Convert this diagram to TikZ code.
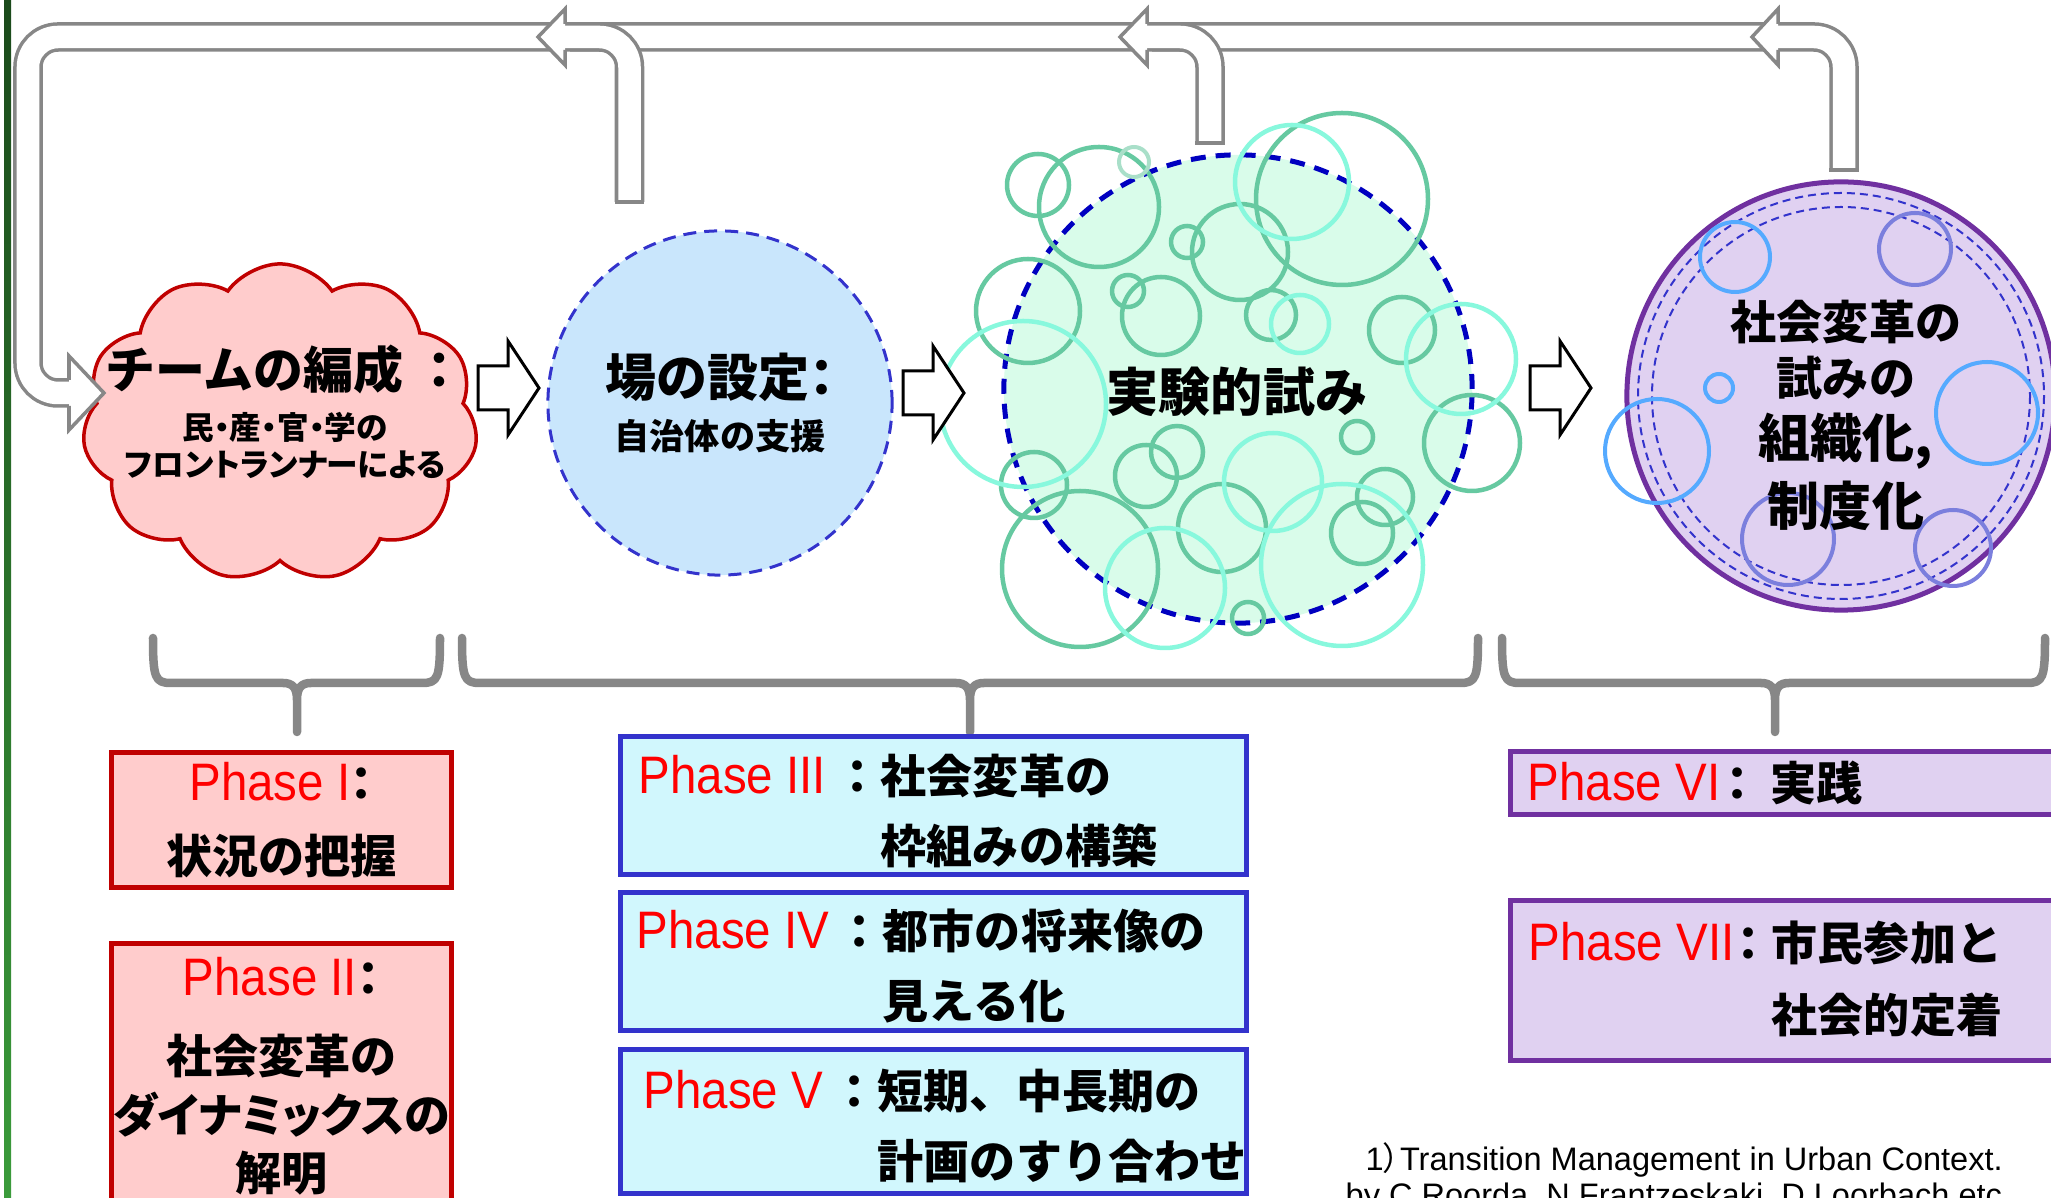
\documentclass[tikz,border=0pt]{standalone}
\usepackage{fontspec}
\setmainfont{Liberation Sans}
\newfontfamily\jpf{Noto Sans CJK JP}
\newfontfamily\jpp{Noto Sans CJK JP}[RawFeature=+palt]
\newfontfamily\phs{Liberation Sans}[FakeStretch=0.9]
\usetikzlibrary{shapes.symbols, positioning, calc}

\definecolor{cloudfill}{HTML}{FFCCCC}
\definecolor{cloudline}{HTML}{C00000}
\definecolor{fieldfill}{HTML}{C9E6FC}
\definecolor{fieldline}{HTML}{3333CC}
\definecolor{trialfill}{HTML}{D9FCEA}
\definecolor{trialline}{HTML}{0000C0}
\definecolor{bubgreen}{HTML}{66C9A1}
\definecolor{bubaqua}{HTML}{88F8DD}
\definecolor{bubpale}{HTML}{A9DFC9}
\definecolor{orgfill}{HTML}{E0D1F1}
\definecolor{orgline}{HTML}{7030A0}
\definecolor{dotblue}{HTML}{55AAFF}
\definecolor{dotslate}{HTML}{7B7FDD}
\definecolor{fbgray}{HTML}{878787}
\definecolor{boxcyan}{HTML}{D1F7FD}
\definecolor{barTop}{HTML}{1B4A1B}
\definecolor{barBot}{HTML}{3B9B3B}
\definecolor{phasered}{HTML}{FF0000}

\tikzset{
  fbband/.style={draw=fbgray, line width=0.035cm, double=white, double distance=0.225cm, rounded corners=0.3cm},
  fbend/.style={draw=fbgray, line width=0.035cm, line cap=rect},
  fbhead/.style={draw=fbgray, line width=0.035cm, fill=white, line join=miter},
  blockarr/.style={draw=black, line width=0.03cm, fill=white},
  bracket/.style={draw=fbgray, line width=0.085cm, line cap=round, line join=round},
  bubble/.style={line width=0.045cm},
  phasebox/.style={rectangle, line width=0.05cm, inner sep=0},
  redbox/.style={phasebox, draw=cloudline, fill=cloudfill},
  bluebox/.style={phasebox, draw=fieldline, fill=boxcyan},
  purplebox/.style={phasebox, draw=orgline, fill=orgfill},
  boxtext/.style={anchor=north west, inner sep=0, align=left, font=\fontsize{13.1pt}{19.9pt}\selectfont},
}

% Phase ラベル
\newcommand{\plabel}[2]{\rlap{\phs\fontsize{15pt}{17pt}\selectfont\color{phasered}#2}\makebox[#1][r]{\jpf\bfseries ：}}
% 白抜き矢印
\newcommand{\hollowarrow}[1]{\draw[blockarr] (#1) ++(0,-22) -- ++(30,0) -- ++(0,-25) -- ++(31,47) -- ++(-31,47) -- ++(0,-25) -- ++(-30,0) -- cycle;}
% 括弧
\newcommand{\phasebrace}[3]{\draw[bracket] (#1,638) .. controls (#1,678) and (#1+2,683) .. (#1+18,683) -- (#2-14,683) .. controls (#2-4,683) and (#2,688) .. (#2,700) -- (#2,732)
  (#2,700) .. controls (#2,688) and (#2+4,683) .. (#2+14,683) -- (#3-18,683) .. controls (#3-2,683) and (#3,678) .. (#3,638);}

\begin{document}
\begin{tikzpicture}[x=0.01cm, y=-0.01cm]
\useasboundingbox (0,0) rectangle (2051,1198);
\clip (0,0) rectangle (2051,1198);
% 左の帯
\shade[top color=barTop, bottom color=barBot] (4,0) rectangle (11,1198);

% チームの編成
\node[cloud, cloud puffs=11, cloud puff arc=110, cloud ignores aspect, minimum width=3.95cm, minimum height=3.18cm,
  draw=cloudline, fill=cloudfill, line width=0.035cm] (team) at (280,423) {};
\node[align=center, inner sep=0, font=\fontsize{9pt}{10.5pt}\selectfont] (teamtxt) at (285,412)
  {{\jpf\bfseries\fontsize{14.2pt}{17pt}\selectfont チームの編成 ：}\\[4pt]{\jpp\bfseries 民・産・官・学の}\\{\jpp\bfseries フロントランナーによる}};

% 場の設定
\node[circle, minimum size=3.44cm, draw=fieldline, fill=fieldfill, line width=0.03cm, dash pattern=on 0.13cm off 0.08cm,
  align=center, inner sep=0, font=\fontsize{10pt}{12pt}\selectfont] (field) at (720,403)
  {{\jpf\bfseries\fontsize{14.5pt}{17pt}\selectfont 場の設定\jpp：}\\[3pt]{\jpf\bfseries 自治体の支援}};

% 実験的試み
\node[circle, minimum size=4.68cm, fill=trialfill, draw=trialline, line width=0.05cm, dash pattern=on 0.15cm off 0.1cm] (trial) at (1238,389) {};
\foreach \bx/\by/\br in {1038/185/31, 1099/207/60, 1028/311/52, 1187/242/16, 1240/252/48, 1128/291/16, 1161/316/39,
  1342/199/86, 1271/315/25, 1402/330/33, 1034/485/33, 1080/569/78, 1146/476/31, 1177/452/26, 1222/528/44,
  1248/618/16, 1357/437/16, 1472/443/48, 1385/497/28, 1362/533/31}
  \draw[bubble, bubgreen] (\bx,\by) circle[radius=\br];
\foreach \bx/\by/\br in {1023/404/83, 1292/182/57, 1300/324/29, 1461/359/55, 1165/588/60, 1273/482/49, 1342/565/81}
  \draw[bubble, bubaqua] (\bx,\by) circle[radius=\br];
\draw[line width=0.04cm, bubpale] (1134,162) circle[radius=15];
\node[inner sep=0, font=\jpf\bfseries\fontsize{14.8pt}{17pt}\selectfont] (trialtxt) at (1237,392) {実験的試み};

% 組織化・制度化
\node[circle, minimum size=4.28cm, draw=orgline, fill=orgfill, line width=0.05cm] (org) at (1841,396) {};
\draw[fieldline, line width=0.02cm, dash pattern=on 0.08cm off 0.05cm] (org.center) circle[radius=203] (org.center) circle[radius=189];
\foreach \bx/\by/\br in {1735/257/35, 1719/388/14, 1987/413/51, 1657/451/52}
  \draw[line width=0.04cm, dotblue] (\bx,\by) circle[radius=\br];
\foreach \bx/\by/\br in {1915/249/36, 1788/539/46, 1953/548/38}
  \draw[line width=0.04cm, dotslate] (\bx,\by) circle[radius=\br];
\node[align=center, inner sep=0, font=\fontsize{13.1pt}{16pt}\selectfont] (orgtxt) at (1846,415)
  {{\jpf\bfseries 社会変革の}\\{\jpf\bfseries 試みの}\\[1.7pt]{\jpf\bfseries\fontsize{14.8pt}{17pt}\selectfont 組織化,}\\[2.2pt]{\jpf\bfseries\fontsize{14.8pt}{17pt}\selectfont 制度化}};

% フィードバック
\coordinate (fb1) at (629.5,202);
\coordinate (fb2) at (1210,143);
\coordinate (fb3) at (1844,170);
\coordinate (fbin) at (75,393);
\draw[fbband] (fb3) -- (1844,37) -- (28,37) -- (28,393) -- (fbin);
\draw[fbband] (fb1) -- (629.5,37) -- (570,37);
\draw[fbband] (fb2) -- (1210,37) -- (1152,37);
\foreach \c in {fb1,fb2,fb3} \draw[fbend] ([xshift=-0.13cm]\c) -- ([xshift=0.13cm]\c);
\foreach \b/\t in {565/538, 1147/1120, 1778/1752}
  \draw[fbhead] (\b,24) -- (\b,9) -- (\t,37) -- (\b,65) -- (\b,50);
\draw[fbhead] (69,380) -- (69,356) -- (104,393) -- (69,430) -- (69,406);

% 段階の矢印
\coordinate (ar1) at (478,388);
\coordinate (ar2) at (903,393);
\coordinate (ar3) at (1530,388);
\hollowarrow{ar1}
\hollowarrow{ar2}
\hollowarrow{ar3}

% 括弧
\phasebrace{153}{297}{440}
\phasebrace{462}{970}{1478}
\phasebrace{1502}{1775}{2045}

% Phase I, II
\node[redbox, minimum width=3.40cm, minimum height=1.35cm, align=center, font=\fontsize{13.1pt}{18pt}\selectfont] (ph1) at (281.5,820)
  {{\phs\fontsize{15pt}{17pt}\selectfont\color{phasered}Phase I}{\jpp\bfseries ：}\\[2.8pt]{\jpf\bfseries 状況の把握}};
\node[redbox, minimum width=3.40cm, minimum height=3.06cm] (ph2) at (281.5,1097) {};
\node[anchor=north, align=center, inner sep=0, font=\fontsize{13.1pt}{16.7pt}\selectfont] (ph2txt) at (281.5,957)
  {{\phs\fontsize{15pt}{17pt}\selectfont\color{phasered}Phase II}{\jpp\bfseries ：}\\[5.3pt]{\jpf\bfseries 社会変革の}\\{\jpp\bfseries ダイナミックスの}\\{\jpf\bfseries 解明}};

% Phase III, IV, V
\node[bluebox, minimum width=6.26cm, minimum height=1.38cm] (ph3) at (933.5,805.5) {};
\node[bluebox, minimum width=6.26cm, minimum height=1.38cm] (ph4) at (933.5,961.5) {};
\node[bluebox, minimum width=6.26cm, minimum height=1.44cm] (ph5) at (933.5,1121.5) {};
\node[boxtext] (ph3txt) at (638,753.5) {\plabel{2.42cm}{Phase III}{\jpf\bfseries 社会変革の}\\\hspace*{2.42cm}{\jpf\bfseries 枠組みの構築}};
\node[boxtext] (ph4txt) at (636,908.5) {\plabel{2.46cm}{Phase IV}{\jpf\bfseries 都市の将来像の}\\\hspace*{2.46cm}{\jpf\bfseries 見える化}};
\node[boxtext] (ph5txt) at (643,1068.5) {\plabel{2.34cm}{Phase V}{\jpf\bfseries 短期、中長期の}\\\hspace*{2.34cm}{\jpf\bfseries 計画のすり合わせ}};

% Phase VI, VII
\node[purplebox, minimum width=5.9cm, minimum height=0.63cm] (ph6) at (1805.5,783) {};
\node[purplebox, minimum width=5.9cm, minimum height=1.60cm] (ph7) at (1805.5,980.5) {};
\node[boxtext] (ph6txt) at (1527,760.5) {\plabel{2.33cm}{Phase VI}\hspace{0.1cm}{\jpf\bfseries 実践}};
\node[boxtext, font=\fontsize{13.1pt}{20.5pt}\selectfont] (ph7txt) at (1528,920.5) {\plabel{2.43cm}{Phase VII}{\jpf\bfseries 市民参加と}\\\hspace*{2.43cm}{\jpf\bfseries 社会的定着}};

% 出典
\node[anchor=base west, inner sep=0, font=\fontsize{9.25pt}{11pt}\selectfont] (note1) at (1365,1170) {1{\jpp）}Transition Management in Urban Context.};
\node[anchor=base west, inner sep=0, font=\fontsize{9.25pt}{11pt}\selectfont] (note2) at (1345,1207) {by C.Roorda, N.Frantzeskaki, D.Loorbach etc.};
\end{tikzpicture}
\end{document}
